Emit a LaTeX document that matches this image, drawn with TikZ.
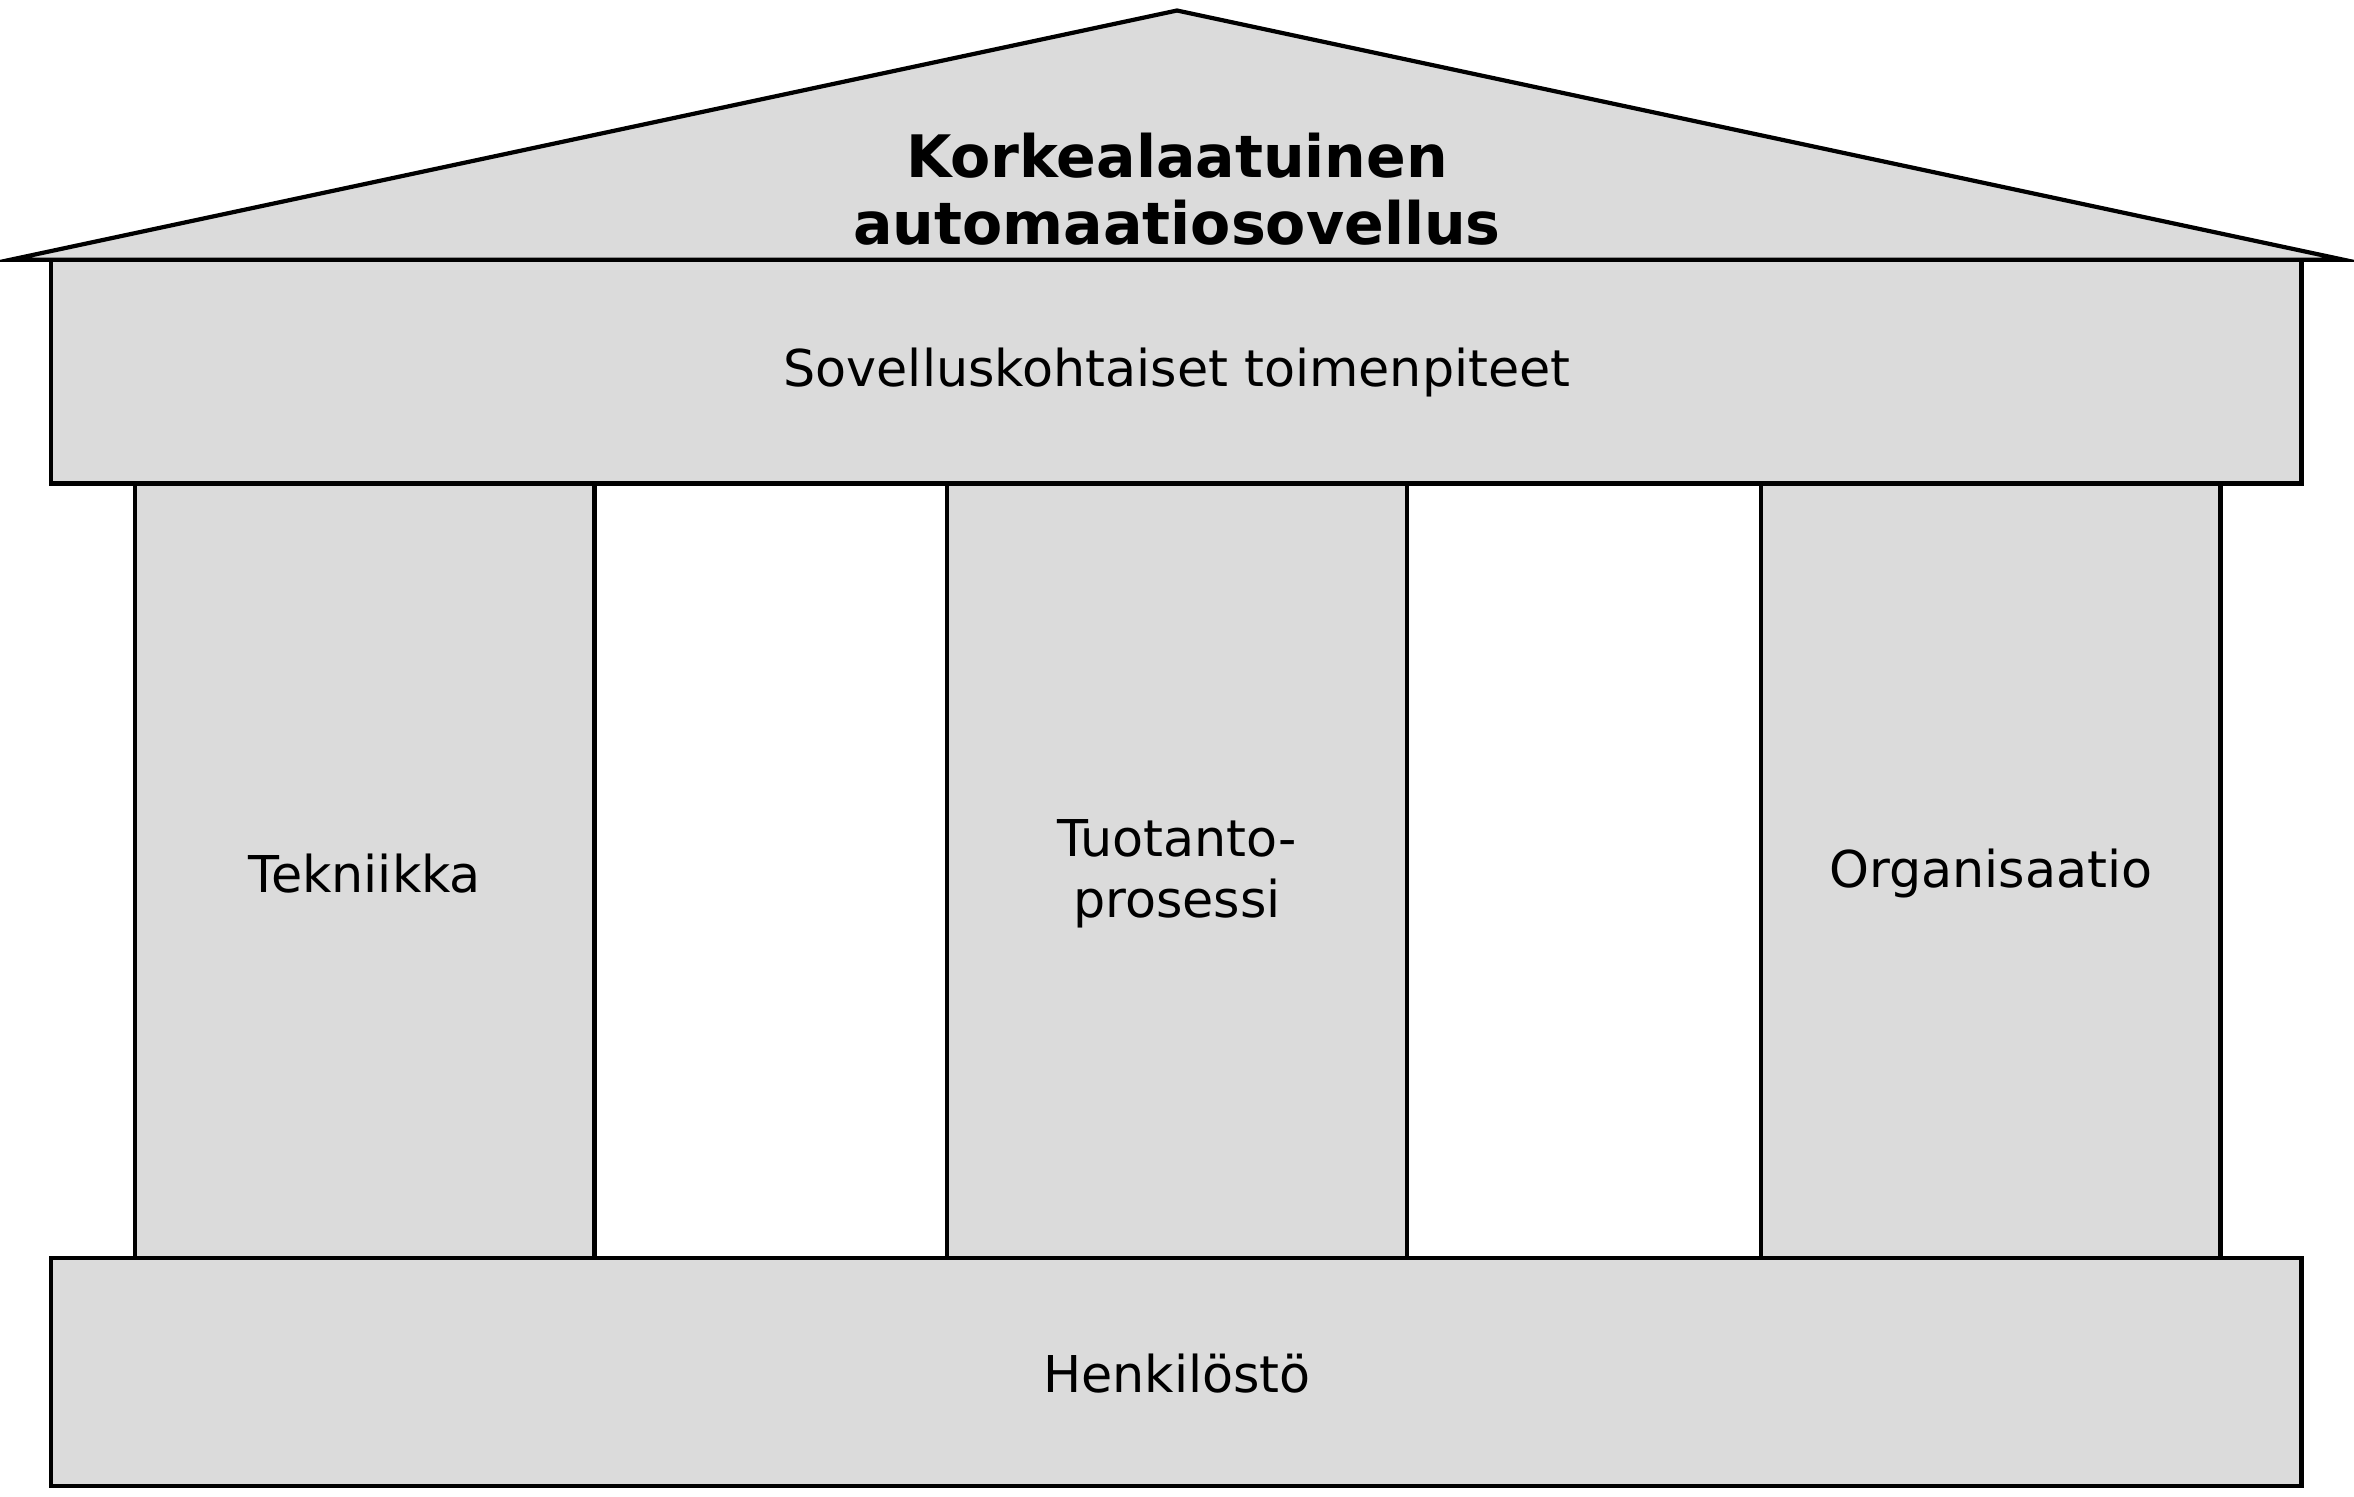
\documentclass[tikz,border=0pt]{standalone}
\usepackage{fontspec}
\setmainfont{DejaVu Sans}
\begin{document}
\begin{tikzpicture}[x=0.5pt,y=-0.5pt,
  part/.style={draw=black,fill=gray!28,line width=1.4pt,line join=miter},
  lbl/.style={font=\fontsize{16.9}{20}\selectfont,align=center}]
\useasboundingbox (0,0) rectangle (1568,997);
\draw[part] (7,173) -- (784,7) -- (1561,173) -- cycle;
\draw[part] (90,322) rectangle (396,838);
\draw[part] (631,322) rectangle (937,838);
\draw[part] (1173,322) rectangle (1479,838);
\draw[part] (34,173) rectangle (1533,322);
\draw[part] (34,838) rectangle (1533,990);
\node[lbl,font=\bfseries\fontsize{19.5}{22}\selectfont] (roof) at (784,126) {Korkealaatuinen\\automaatiosovellus};
\node[lbl] (top) at (784,248) {Sovelluskohtaiset toimenpiteet};
\node[lbl] (c1) at (243,582) {Tekniikka};
\node[lbl] (c2) at (784,582) {Tuotanto-\\prosessi};
\node[lbl] (c3) at (1326,582) {Organisaatio};
\node[lbl] (base) at (784,915) {Henkilöstö};
\end{tikzpicture}
\end{document}
